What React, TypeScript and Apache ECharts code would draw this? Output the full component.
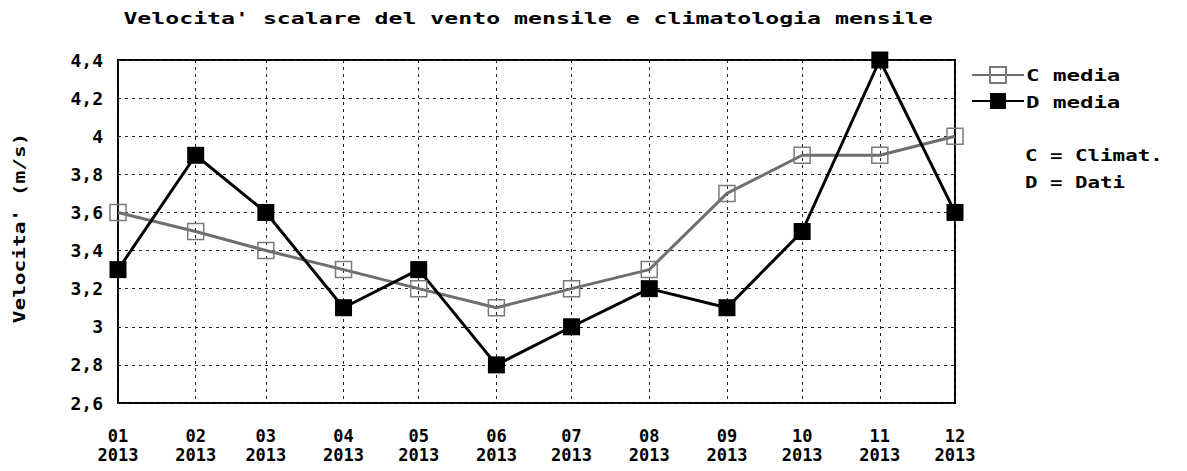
import React, { useEffect, useRef } from "react";
import * as echarts from "echarts";

const MONTHS = [
  "2013-01-01", "2013-02-01", "2013-03-01", "2013-04-01", "2013-05-01", "2013-06-01",
  "2013-07-01", "2013-08-01", "2013-09-01", "2013-10-01", "2013-11-01", "2013-12-01",
];
const C_MEDIA = [3.6, 3.5, 3.4, 3.3, 3.2, 3.1, 3.2, 3.3, 3.7, 3.9, 3.9, 4.0];
const D_MEDIA = [3.3, 3.9, 3.6, 3.1, 3.3, 2.8, 3.0, 3.2, 3.1, 3.5, 4.4, 3.6];
const SERIES_NAMES = ["C media", "D media"];
const Y_MIN = 2.6;
const Y_MAX = 4.4;
const Y_STEP = 0.2;
const TITLE = "Velocita' scalare del vento mensile e climatologia mensile";
const Y_NAME = "Velocita' (m/s)";
const NOTES = ["C = Climat.", "D = Dati"];

const FONT = '"DejaVu Sans Mono", "Liberation Mono", monospace';

export default function App() {
  const ref = useRef<HTMLDivElement>(null);
  useEffect(() => {
    if (!ref.current) return;
    const chart = echarts.init(ref.current, null, { renderer: "svg" });
    const pad = (n: number) => (n < 10 ? "0" + n : "" + n);
    const gridLine = { show: true, lineStyle: { color: "#222", width: 1, type: [3, 4] as any } };
    const txt = (text: string, x: number, y: number, sx: number, align = "left", rot = 0) => ({
      type: "text",
      x,
      y,
      rotation: rot,
      scaleX: sx,
      style: {
        text,
        font: `bold 16px ${FONT}`,
        fill: "#000",
        textAlign: align,
        textVerticalAlign: "middle",
      },
    });
    chart.setOption({
      animation: false,
      backgroundColor: "#fff",
      grid: {
        left: 118,
        right: 232,
        top: 60,
        bottom: 68,
        show: true,
        borderColor: "#000",
        borderWidth: 2,
        backgroundColor: "transparent",
      },
      xAxis: {
        type: "time",
        min: MONTHS[0],
        max: MONTHS[MONTHS.length - 1],
        splitNumber: 11,
        minInterval: 28 * 86400000,
        maxInterval: 31 * 86400000,
        axisLine: { show: false },
        axisTick: { show: false },
        splitLine: gridLine,
        axisLabel: {
          showMinLabel: true,
          showMaxLabel: true,
          hideOverlap: false,
          margin: 23,
          color: "#000",
          fontFamily: FONT,
          fontWeight: "bold",
          fontSize: 17,
          lineHeight: 19,
          formatter: (v: number) => {
            const d = new Date(v);
            return pad(d.getMonth() + 1) + "\n" + d.getFullYear();
          },
        },
      },
      yAxis: {
        type: "value",
        min: Y_MIN,
        max: Y_MAX,
        interval: Y_STEP,
        axisLine: { show: false },
        axisTick: { show: false },
        splitLine: gridLine,
        axisLabel: {
          margin: 15,
          color: "#000",
          fontFamily: FONT,
          fontWeight: "bold",
          fontSize: 18,
          formatter: (v: number) => String(Math.round(v * 10) / 10).replace(".", ","),
        },
      },
      legend: {
        orient: "vertical",
        left: 966,
        top: 60,
        itemWidth: 52,
        itemHeight: 20,
        itemGap: 7,
        formatter: () => "",
        data: SERIES_NAMES,
      },
      graphic: [
        txt(TITLE, 528, 19, 1.45, "center"),
        txt(Y_NAME, 19, 228, 1.32, "center", Math.PI / 2),
        ...SERIES_NAMES.map((t, i) => txt(t, 1026, 76 + i * 27, 1.4)),
        ...NOTES.map((t, i) => txt(t, 1025, 155 + i * 27, 1.3)),
      ],
      series: [
        {
          name: SERIES_NAMES[0],
          type: "line",
          data: MONTHS.map((m, i) => [m, C_MEDIA[i]]),
          symbol: "rect",
          symbolSize: 16,
          lineStyle: { color: "#6e6e6e", width: 3 },
          itemStyle: { color: "rgba(255,255,255,0)", borderColor: "#7a7a7a", borderWidth: 1.5 },
          emphasis: { disabled: true },
        },
        {
          name: SERIES_NAMES[1],
          type: "line",
          data: MONTHS.map((m, i) => [m, D_MEDIA[i]]),
          symbol: "rect",
          symbolSize: 17,
          lineStyle: { color: "#000", width: 3 },
          itemStyle: { color: "#000" },
          emphasis: { disabled: true },
        },
      ],
    });
    return () => chart.dispose();
  }, []);
  return (
    <div
      ref={ref}
      style={{ position: "fixed", left: 0, top: 0, width: 1187, height: 471, background: "#fff" }}
    />
  );
}
